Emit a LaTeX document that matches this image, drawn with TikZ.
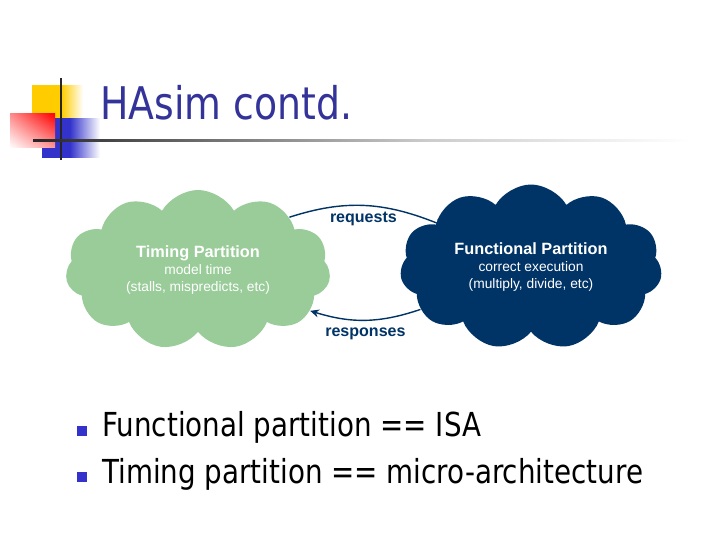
\documentclass[tikz,border=0pt]{standalone}
\usepackage{fontspec}
\setmainfont{Liberation Sans}
\newfontfamily\tahoma[FakeStretch=0.84]{DejaVu Sans}
\usetikzlibrary{shapes.symbols, shadings, arrows.meta, positioning}
\definecolor{titleblue}{HTML}{333399}
\definecolor{bulletblue}{HTML}{3333CC}
\definecolor{funcblue}{HTML}{003366}
\definecolor{timegreen}{HTML}{99CC99}
\definecolor{decoyellow}{HTML}{FFCC00}
\definecolor{decoblue}{HTML}{3333CC}
\definecolor{decored}{HTML}{FF0000}
% sfumature del logo
\pgfdeclarehorizontalshading{yellowfade}{100bp}{color(0bp)=(decoyellow); color(54bp)=(decoyellow); color(75bp)=(white); color(100bp)=(white)}
\pgfdeclarehorizontalshading{bluefade}{100bp}{color(0bp)=(decoblue); color(49bp)=(decoblue); color(75bp)=(white); color(100bp)=(white)}
\pgfdeclarehorizontalshading{rulefade}{100bp}{color(0bp)=(black!85); color(25bp)=(black!85); color(55bp)=(black!20); color(75bp)=(white); color(100bp)=(white)}
\tikzset{
  % nuvola di una partizione
  partcloud/.style={cloud, cloud puffs=11, cloud puff arc=120, aspect=1.65,
    align=center, text=white, inner sep=0pt, font=\fontsize{9.8}{12}\selectfont},
  % freccia tra le partizioni
  msg/.style={-{Stealth[length=2.2mm, width=2mm]}, line width=1pt, funcblue},
  msglbl/.style={font=\bfseries\fontsize{11.4}{13}\selectfont, text=funcblue},
  % elenco puntato
  bulletsq/.style={rectangle, fill=bulletblue, minimum size=0.27cm, inner sep=0pt},
  bullettxt/.style={anchor=base west, inner sep=0pt, font=\tahoma\fontsize{23.5}{28}\selectfont},
}
\begin{document}
\begin{tikzpicture}
  \useasboundingbox[fill=white] (0,0) rectangle (18,13.5);
  % logo
  \shade[shading=yellowfade] (0.8,10.15) rectangle (2.075,11.35);
  \shade[shading=bluefade] (1.05,9.55) rectangle (2.5,10.525);
  \shade[upper right=decored, upper left=decored!45, lower right=decored!40, lower left=white] (0.25,9.8) rectangle (1.375,10.65);
  \fill[black!85] (1.5,9.5) rectangle (1.55,11.55);
  \shade[shading=rulefade] (0.825,9.95) rectangle (17.25,10.0);
  \node[anchor=base west, inner sep=0pt, text=titleblue, font=\tahoma\fontsize{32}{38}\selectfont] (title) at (2.5,10.5) {HAsim contd.};
  % partizioni
  \node[partcloud, fill=timegreen, minimum width=6.625cm, minimum height=4cm] (tp) at (4.95,6.75)
    {{\bfseries\fontsize{11.6}{14}\selectfont Timing Partition}\\ model time\\ (stalls, mispredicts, etc)};
  \node[partcloud, fill=funcblue, minimum width=6.55cm, minimum height=4.125cm] (fp) at (13.275,6.825)
    {{\bfseries\fontsize{11.6}{14}\selectfont Functional Partition}\\ correct execution\\ (multiply, divide, etc)};
  \draw[msg, shorten >=-6pt] (tp.30) to[bend left=20] node[msglbl, below=1pt] (req) {requests} (fp.155);
  \draw[msg] (fp.201) to[bend left=18] node[msglbl, below=2pt] (resp) {responses} (tp.340);
  % elenco
  \node[bulletsq] (b1) at (2.05,2.725) {};
  \node[bullettxt] (t1) at (2.55,2.575) {Functional partition == ISA};
  \node[bulletsq] (b2) at (2.05,1.575) {};
  \node[bullettxt] (t2) at (2.55,1.425) {Timing partition == micro-architecture};
\end{tikzpicture}
\end{document}
